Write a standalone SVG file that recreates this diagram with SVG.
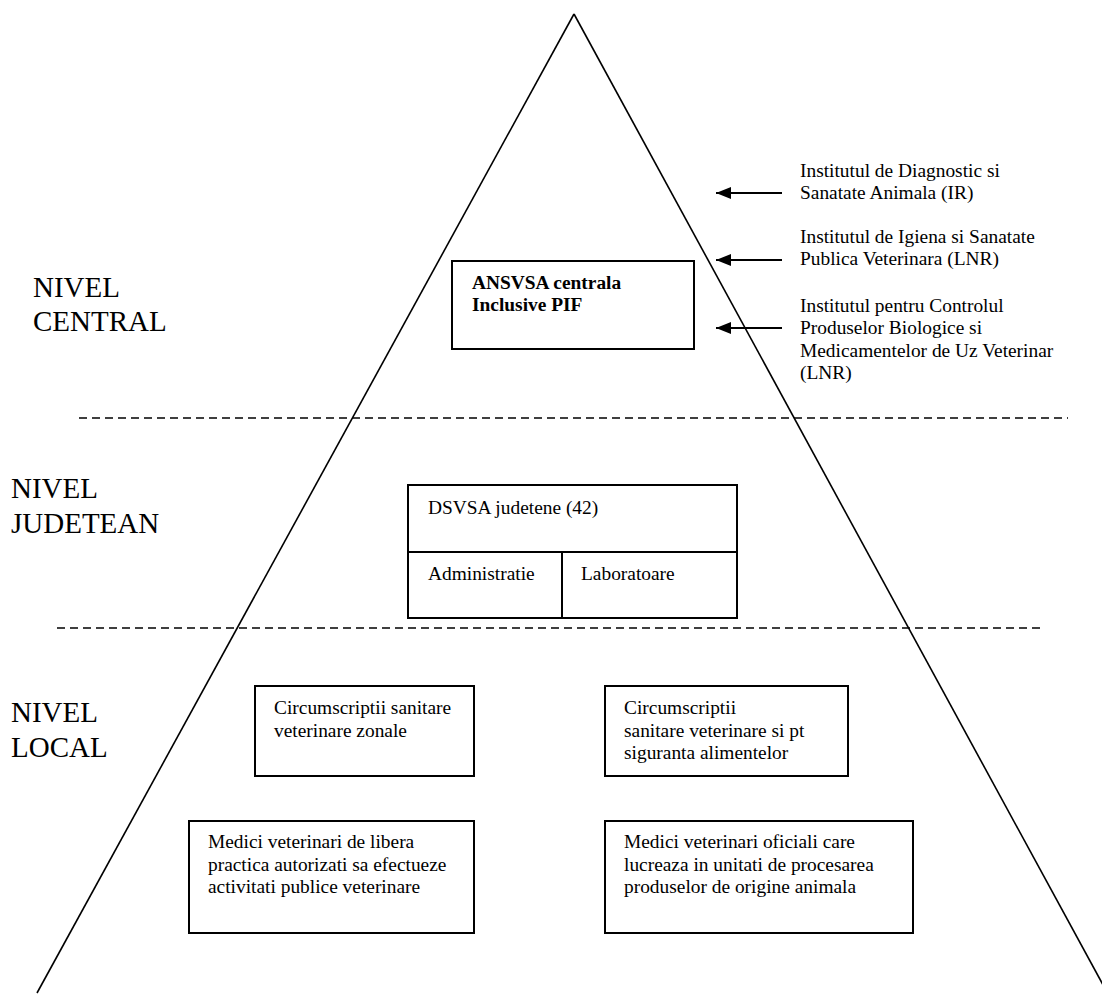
<svg xmlns="http://www.w3.org/2000/svg" width="1102" height="994" viewBox="0 0 1102 994">
<style>
  .t { font-size: 19.4px; }
  .b { font-size: 19.4px; font-weight: bold; }
  .lvl { font-size: 29px; }
  .box { fill: #fff; stroke: #000; stroke-width: 2; }
  .edge { stroke: #000; stroke-width: 1.6; fill: none; }
  .dash { stroke: #000; stroke-width: 1.6; stroke-dasharray: 8 5; fill: none; }
  .arr { stroke: #000; stroke-width: 2; fill: none; }
</style>
<defs>
  <marker id="ah" markerUnits="userSpaceOnUse" markerWidth="16" markerHeight="14" refX="15" refY="6" orient="auto">
    <path d="M0,0 L15,6 L0,12 z" fill="#000"/>
  </marker>
</defs>
<rect x="0" y="0" width="1102" height="994" fill="#fff"/>

<g id="pyramid">
  <line class="edge" x1="574" y1="14" x2="37" y2="993"/>
  <line class="edge" x1="574" y1="14" x2="1108" y2="994"/>
</g>

<g id="level-separators">
  <line class="dash" x1="79" y1="418" x2="1068" y2="418"/>
  <line class="dash" x1="57" y1="628" x2="1044" y2="628"/>
</g>

<g font-family="Liberation Serif, Tinos, Times New Roman, DejaVu Serif, serif" fill="#000">
<g id="level-labels">
  <text class="lvl" x="33" y="297">NIVEL</text>
  <text class="lvl" x="33" y="331">CENTRAL</text>
  <text class="lvl" x="11" y="498">NIVEL</text>
  <text class="lvl" x="11" y="533">JUDETEAN</text>
  <text class="lvl" x="11" y="722">NIVEL</text>
  <text class="lvl" x="11" y="757">LOCAL</text>
</g>

<g id="ansvsa">
  <rect class="box" x="452" y="261" width="242" height="88"/>
  <text class="b" x="472" y="288.5">ANSVSA centrala</text>
  <text class="b" x="472" y="310.5">Inclusive PIF</text>
</g>

<g id="inst-ir">
  <text class="t" x="800" y="176.7">Institutul de Diagnostic si</text>
  <text class="t" x="800" y="199.3">Sanatate Animala (IR)</text>
</g>
<g id="inst-igiena">
  <text class="t" x="800" y="242.7">Institutul de Igiena si Sanatate</text>
  <text class="t" x="800" y="265.3">Publica Veterinara (LNR)</text>
</g>
<g id="inst-control">
  <text class="t" x="800" y="311.5">Institutul pentru Controlul</text>
  <text class="t" x="800" y="334">Produselor Biologice si</text>
  <text class="t" x="800" y="356.5">Medicamentelor de Uz Veterinar</text>
  <text class="t" x="800" y="379">(LNR)</text>
</g>

<g id="dsvsa">
  <rect class="box" x="408" y="485" width="329" height="133"/>
  <line class="box" x1="408" y1="552" x2="737" y2="552"/>
  <line class="box" x1="562" y1="552" x2="562" y2="618"/>
  <text class="t" x="428" y="514">DSVSA judetene (42)</text>
  <text class="t" x="428" y="580">Administratie</text>
  <text class="t" x="581" y="580">Laboratoare</text>
</g>

<g id="circ-zonale">
  <rect class="box" x="255" y="686" width="219" height="90"/>
  <text class="t" x="274" y="714">Circumscriptii sanitare</text>
  <text class="t" x="274" y="736.5">veterinare zonale</text>
</g>

<g id="circ-siguranta">
  <rect class="box" x="605" y="686" width="243" height="90"/>
  <text class="t" x="624" y="714">Circumscriptii</text>
  <text class="t" x="624" y="736.5">sanitare veterinare si pt</text>
  <text class="t" x="624" y="759">siguranta alimentelor</text>
</g>

<g id="medici-libera">
  <rect class="box" x="189" y="821" width="285" height="112"/>
  <text class="t" x="208" y="848">Medici veterinari de libera</text>
  <text class="t" x="208" y="870.5">practica autorizati sa efectueze</text>
  <text class="t" x="208" y="893">activitati publice veterinare</text>
</g>

<g id="medici-oficiali">
  <rect class="box" x="605" y="821" width="308" height="112"/>
  <text class="t" x="624" y="848">Medici veterinari oficiali care</text>
  <text class="t" x="624" y="870.5">lucreaza in unitati de procesarea</text>
  <text class="t" x="624" y="893">produselor de origine animala</text>
</g>
</g>

<g id="connectors">
  <line class="arr" x1="782" y1="193" x2="716" y2="193" marker-end="url(#ah)"/>
  <line class="arr" x1="782" y1="260" x2="716" y2="260" marker-end="url(#ah)"/>
  <line class="arr" x1="782" y1="328" x2="716" y2="328" marker-end="url(#ah)"/>
</g>
</svg>
